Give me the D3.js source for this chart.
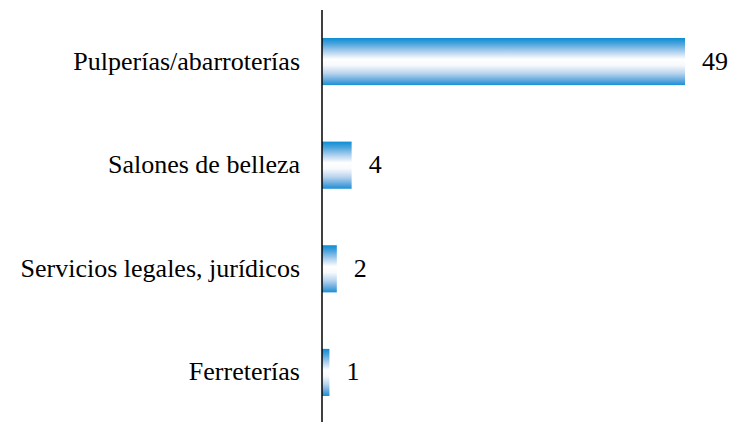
<!DOCTYPE html>
<html><head><meta charset="utf-8">
<script src="https://cdn.jsdelivr.net/npm/d3@7"></script>
<style>body{margin:0;background:#fff}svg{display:block}</style>
</head><body>
<script>
const categories = ["Pulperías/abarroterías", "Salones de belleza", "Servicios legales, jurídicos", "Ferreterías"];
const values = [49, 4, 2, 1];

const W = 729, H = 422;
const svg = d3.select("body").append("svg").attr("width", W).attr("height", H);

const x0 = 322;
const x = d3.scaleLinear().domain([0, 49]).range([x0, 685]);
const y = d3.scaleBand().domain(categories).range([10, 424]).paddingInner(0.545).paddingOuter(0.27);

const defs = svg.append("defs");
const g = defs.append("linearGradient").attr("id", "bg").attr("x1", 0).attr("y1", 0).attr("x2", 0).attr("y2", 1);
[[0, "#0b8dd5"], [0.12, "#4aa3dc"], [0.3, "#b5d3ef"], [0.45, "#ffffff"], [0.58, "#f7f9fd"], [0.75, "#b9d4ee"], [0.9, "#5fa8de"], [1, "#1a8fd6"]]
  .forEach(([o, c]) => g.append("stop").attr("offset", o).attr("stop-color", c));

categories.forEach((c, i) => {
  svg.append("rect")
    .attr("x", x(0))
    .attr("y", y(c))
    .attr("width", x(values[i]) - x(0))
    .attr("height", y.bandwidth())
    .attr("fill", "url(#bg)");
});

svg.append("line")
  .attr("x1", x(0)).attr("x2", x(0))
  .attr("y1", 10).attr("y2", H)
  .attr("stroke", "#000").attr("stroke-width", 1.5);

categories.forEach((c, i) => {
  const cy = y(c) + y.bandwidth() / 2 + 8;
  svg.append("text")
    .attr("x", x(0) - 22)
    .attr("y", cy)
    .attr("text-anchor", "end")
    .style("font-family", "'Liberation Serif'")
    .style("font-size", "26px")
    .text(c);
  svg.append("text")
    .attr("x", x(values[i]) + 17)
    .attr("y", cy)
    .style("font-family", "'Liberation Serif'")
    .style("font-size", "26px")
    .text(values[i]);
});
</script>
</body></html>
